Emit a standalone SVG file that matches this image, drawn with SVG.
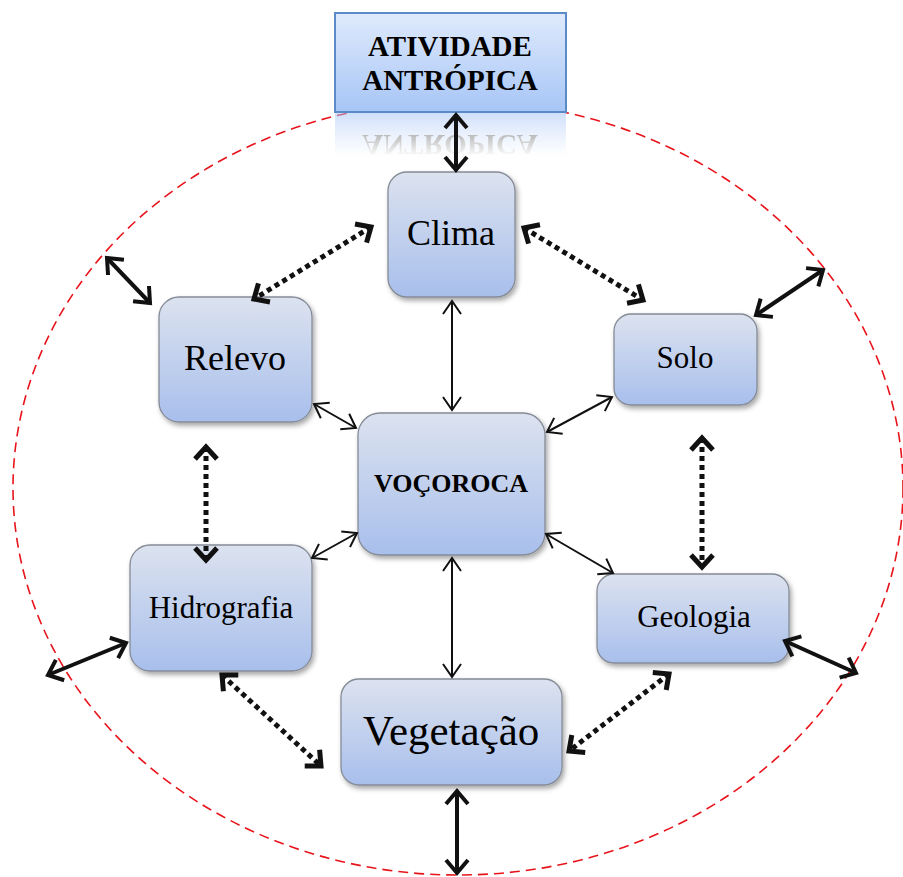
<svg xmlns="http://www.w3.org/2000/svg" width="903" height="877" viewBox="0 0 903 877">
<style>
.node rect{fill:url(#gNode);stroke:#858b96;stroke-width:1.3;filter:url(#sh)}
.lbl{font-family:"Liberation Serif","Times New Roman",serif;fill:#000;text-anchor:middle}
.thin{fill:none;stroke:#111;stroke-width:2;marker-start:url(#mThin);marker-end:url(#mThin)}
.thick{fill:none;stroke:#111;stroke-width:4;marker-start:url(#mThick);marker-end:url(#mThick)}
.dot{fill:none;stroke:#111;stroke-width:5;stroke-dasharray:5 4;marker-start:url(#mDot);marker-end:url(#mDot)}
</style>
<defs>
<linearGradient id="gNode" x1="0" y1="0" x2="0" y2="1">
<stop offset="0" stop-color="#dce2ef"/><stop offset="1" stop-color="#a8bfec"/>
</linearGradient>
<linearGradient id="gTop" x1="0" y1="0" x2="0" y2="1">
<stop offset="0" stop-color="#dfeafc"/><stop offset="1" stop-color="#a6c5f6"/>
</linearGradient>
<linearGradient id="gFade" x1="0" y1="0" x2="0" y2="1">
<stop offset="0" stop-color="#fff" stop-opacity="0.55"/><stop offset="1" stop-color="#fff" stop-opacity="0"/>
</linearGradient>
<mask id="mRefl" maskUnits="userSpaceOnUse" x="330" y="112" width="240" height="50">
<rect x="330" y="112" width="240" height="45" fill="url(#gFade)"/>
</mask>
<filter id="sh" x="-20%" y="-20%" width="150%" height="150%">
<feDropShadow dx="2" dy="3" stdDeviation="2.5" flood-color="#000" flood-opacity="0.35"/>
</filter>
<marker id="mThin" markerUnits="userSpaceOnUse" orient="auto-start-reverse" markerWidth="30" markerHeight="30" refX="0" refY="0" viewBox="-15 -15 30 30" overflow="visible">
<path d="M-13,-9 L0,0 L-13,9" fill="none" stroke="#111" stroke-width="2"/>
</marker>
<marker id="mThick" markerUnits="userSpaceOnUse" orient="auto-start-reverse" markerWidth="30" markerHeight="30" refX="0" refY="0" viewBox="-15 -15 30 30" overflow="visible">
<path d="M-13,-11 L0,0 L-13,11" fill="none" stroke="#111" stroke-width="4"/>
</marker>
<marker id="mDot" markerUnits="userSpaceOnUse" orient="auto-start-reverse" markerWidth="30" markerHeight="30" refX="0" refY="0" viewBox="-15 -15 30 30" overflow="visible">
<path d="M-12,-11 L0,0 L-12,11" fill="none" stroke="#111" stroke-width="5"/>
</marker>
</defs>
<rect width="903" height="877" fill="#fff"/>
<ellipse id="boundary" cx="458" cy="488" rx="445" ry="387" fill="none" stroke="#e8141c" stroke-width="1.6" stroke-dasharray="10 6"/>

<g id="n-atividade">
<rect x="335" y="13" width="231" height="99" fill="url(#gTop)" stroke="#5a8bc6" stroke-width="2"/>
<text class="lbl" x="450" y="56" font-size="29" font-weight="bold">ATIVIDADE</text>
<text class="lbl" x="450" y="90" font-size="29" font-weight="bold">ANTRÓPICA</text>
<g mask="url(#mRefl)">
<g transform="translate(0,225) scale(1,-1)">
<rect x="335" y="13" width="231" height="99" fill="url(#gTop)"/>
<text class="lbl" x="450" y="90" font-size="29" font-weight="bold">ANTRÓPICA</text>
</g>
</g>
</g>

<g id="n-clima" class="node">
<rect x="388" y="172" width="127" height="125" rx="19"/>
<text class="lbl" x="451" y="245" font-size="36">Clima</text>
</g>
<g id="n-relevo" class="node">
<rect x="159" y="297" width="153" height="125" rx="20"/>
<text class="lbl" x="235" y="370" font-size="36">Relevo</text>
</g>
<g id="n-solo" class="node">
<rect x="614" y="314" width="143" height="91" rx="17"/>
<text class="lbl" x="685" y="368" font-size="31">Solo</text>
</g>
<g id="n-vocoroca" class="node">
<rect x="358" y="413" width="187" height="142" rx="22"/>
<text class="lbl" x="451" y="492" font-size="26" font-weight="bold">VOÇOROCA</text>
</g>
<g id="n-hidrografia" class="node">
<rect x="130" y="545" width="182" height="126" rx="20"/>
<text class="lbl" x="221" y="618" font-size="31">Hidrografia</text>
</g>
<g id="n-geologia" class="node">
<rect x="597" y="574" width="192" height="89" rx="17"/>
<text class="lbl" x="694" y="627" font-size="31">Geologia</text>
</g>
<g id="n-vegetacao" class="node">
<rect x="341" y="679" width="221" height="106" rx="18"/>
<text class="lbl" x="451" y="745" font-size="43">Vegetação</text>
</g>

<g id="connectors">
<path class="thick" d="M456,115 L456,170"/>
<path class="thin" d="M452,301 L452,410"/>
<path class="thin" d="M314,404 L356,428"/>
<path class="thin" d="M612,397 L547,432"/>
<path class="thin" d="M312,558 L357,533"/>
<path class="thin" d="M613,573 L546,534"/>
<path class="thin" d="M452,558 L452,677"/>
<path class="thick" d="M107,258 L150,303"/>
<path class="thick" d="M823,270 L756,315"/>
<path class="thick" d="M48,675 L126,643"/>
<path class="thick" d="M785,641 L856,673"/>
<path class="thick" d="M457,791 L457,873"/>
<path class="dot" d="M371,227 L254,299"/>
<path class="dot" d="M524,228 L643,300"/>
<path class="dot" d="M206,447 L206,560"/>
<path class="dot" d="M702,438 L702,567"/>
<path class="dot" d="M222,675 L321,766"/>
<path class="dot" d="M669,674 L569,751"/>
</g>
</svg>
